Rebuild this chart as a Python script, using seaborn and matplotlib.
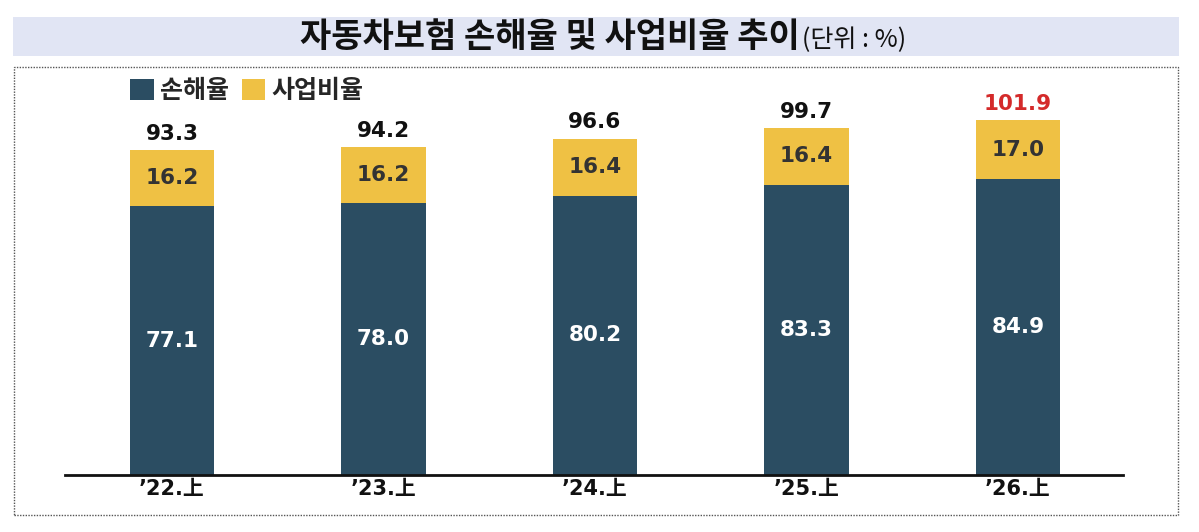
import matplotlib
matplotlib.use("Agg")
import matplotlib.pyplot as plt
from matplotlib.patches import Rectangle
import seaborn as sns
import pandas as pd

# ---- data ----
periods = ["\u201922.上", "\u201923.上", "\u201924.上", "\u201925.上", "\u201926.上"]
loss_ratio = [77.1, 78.0, 80.2, 83.3, 84.9]
expense_ratio = [16.2, 16.2, 16.4, 16.4, 17.0]
combined = [93.3, 94.2, 96.6, 99.7, 101.9]
series_names = ["손해율", "사업비율"]

NAVY = "#2b4d62"
YELLOW = "#efc144"
RED = "#d42a2a"
BAR_BG = "#e1e5f4"

sns.set_theme(style="white")
plt.rcParams["font.family"] = ["DejaVu Sans", "Noto Sans CJK KR"]

W, H = 1199, 532
fig = plt.figure(figsize=(W / 100, H / 100), dpi=100)

def px(x, y):
    return x / W, 1 - y / H

# title bar
fig.patches.append(Rectangle(px(13, 56), (1179 - 13) / W, (56 - 17) / H,
                             transform=fig.transFigure, facecolor=BAR_BG,
                             edgecolor="none", zorder=0))
# dotted border
fig.patches.append(Rectangle(px(14, 515), (1178 - 14) / W, (515 - 67) / H,
                             transform=fig.transFigure, facecolor="none",
                             edgecolor="#555555", linewidth=1.0,
                             linestyle=(0, (1, 1)), zorder=0))

tx, ty = px(800, 37)
fig.text(tx, ty, "자동차보험 손해율 및 사업비율 추이", ha="right", va="center",
         fontsize=24.5, fontweight="bold", family=["Noto Sans CJK KR"], color="#111111")
fig.text(tx + 2 / W, ty - 0.006, "(단위 : %)", ha="left", va="center",
         fontsize=18, family=["Noto Sans CJK KR"], color="#111111")

# axes
ax_left, ax_right, ax_bottom, ax_top = 65, 1123, 475, 75
ax = fig.add_axes([ax_left / W, 1 - ax_bottom / H, (ax_right - ax_left) / W,
                   (ax_bottom - ax_top) / H])

df = pd.DataFrame({"period": periods, "loss": loss_ratio,
                   "expense": expense_ratio, "total": combined})

sns.barplot(data=df, x="period", y="total", color=YELLOW, width=0.4,
            saturation=1, ax=ax, label=series_names[1], linewidth=0,
            edgecolor="none")
sns.barplot(data=df, x="period", y="loss", color=NAVY, width=0.4,
            saturation=1, ax=ax, label=series_names[0], linewidth=0,
            edgecolor="none")

px_per_unit = (ax_bottom - 150) / combined[0]
ax.set_xlim(-0.506, 4.497)
ax.set_ylim(0, (ax_bottom - ax_top) / px_per_unit)

for i, (l, e, t) in enumerate(zip(loss_ratio, expense_ratio, combined)):
    ax.text(i, l / 2, f"{l:.1f}", ha="center", va="center", color="white",
            fontsize=15.5, fontweight="bold")
    ax.text(i, l + e / 2, f"{e:.1f}", ha="center", va="center", color="#333333",
            fontsize=15.5, fontweight="bold")
    ax.text(i, t + 4.6, f"{t:.1f}", ha="center", va="center",
            color=RED if t > 100 else "#111111", fontsize=15.5, fontweight="bold")

for s in ["top", "left", "right"]:
    ax.spines[s].set_visible(False)
ax.spines["bottom"].set_linewidth(2)
ax.spines["bottom"].set_color("#111111")
ax.set_yticks([])
ax.set_xlabel("")
ax.set_ylabel("")
ax.tick_params(axis="x", length=0, pad=3, labelsize=15, labelcolor="#111111")
for lab in ax.get_xticklabels():
    lab.set_fontweight("bold")
ax.patch.set_alpha(0)

handles, labels = ax.get_legend_handles_labels()
if ax.get_legend() is not None:
    ax.get_legend().remove()
order = [labels.index(series_names[0]), labels.index(series_names[1])]
leg = fig.legend([handles[k] for k in order], [labels[k] for k in order],
                 loc="center left", bbox_to_anchor=px(130, 91), ncol=2,
                 frameon=False, handlelength=0.95, handleheight=0.95,
                 handletextpad=0.25, columnspacing=0.5, borderpad=0,
                 borderaxespad=0,
                 prop={"family": ["Noto Sans CJK KR"], "weight": "bold", "size": 18})

fig.savefig("out.png", dpi=100)
